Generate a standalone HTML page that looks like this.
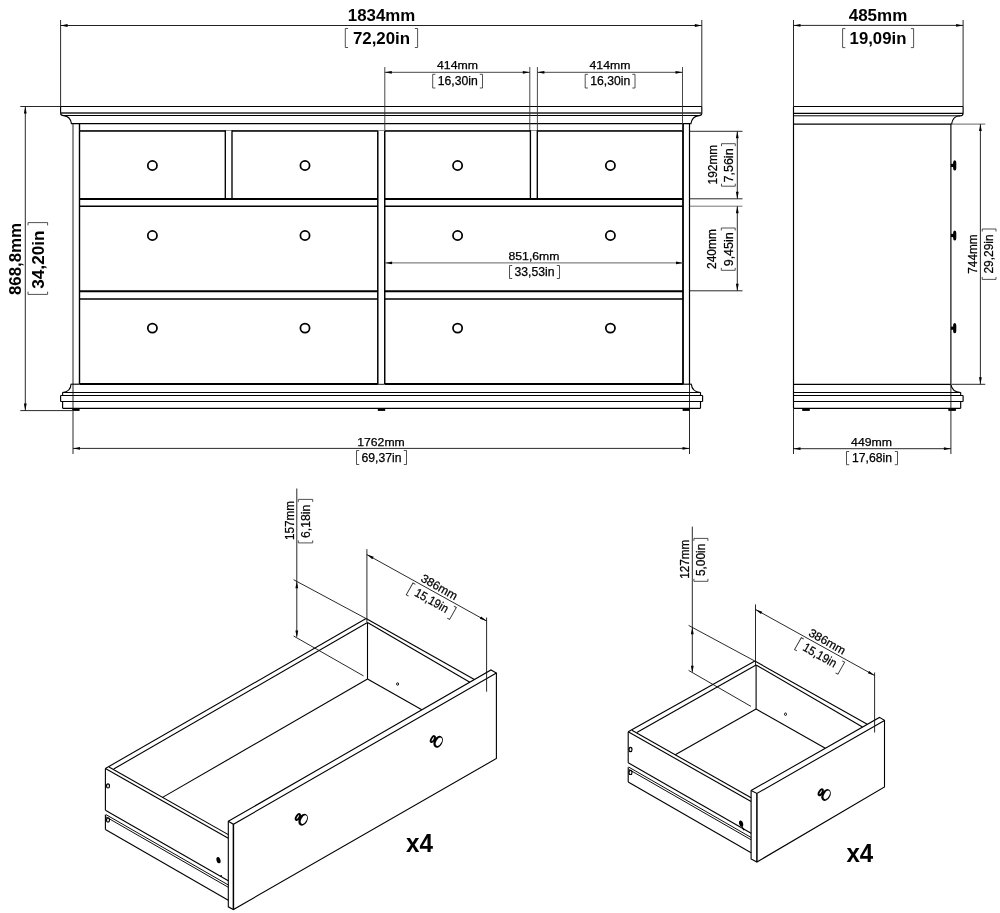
<!DOCTYPE html>
<html><head><meta charset="utf-8"><title>Dimensions</title>
<style>
html,body{margin:0;padding:0;background:#fff;}
body{width:1000px;height:913px;overflow:hidden;font-family:"Liberation Sans",sans-serif;}
svg{display:block;opacity:0.999;will-change:transform;}
svg text{font-family:"Liberation Sans",sans-serif;}
</style></head><body>
<svg width="1000" height="913" viewBox="0 0 1000 913">
<rect x="0" y="0" width="1000" height="913" fill="#fff"/>
<line x1="60.6" y1="106.5" x2="701.8" y2="106.5" stroke="#000" stroke-width="1.15" />
<line x1="60.6" y1="106.5" x2="60.6" y2="113.4" stroke="#000" stroke-width="1.15" />
<line x1="701.8" y1="106.5" x2="701.8" y2="113.4" stroke="#000" stroke-width="1.15" />
<line x1="60.6" y1="112.9" x2="701.8" y2="112.9" stroke="#222" stroke-width="1.5" />
<line x1="63.5" y1="115.5" x2="699" y2="115.5" stroke="#000" stroke-width="1.0" />
<path d="M60.6 113.4 Q60.8 115.6 63.5 115.6 Q70.5 116 71.6 124.1" stroke="#000" stroke-width="1.15" fill="none" />
<path d="M701.8 113.4 Q701.6 115.6 699 115.6 Q692 116 690.8 124.1" stroke="#000" stroke-width="1.15" fill="none" />
<line x1="71.6" y1="123.7" x2="690.8" y2="123.7" stroke="#000" stroke-width="1.3" />
<line x1="73.0" y1="124.1" x2="73.0" y2="384.2" stroke="#222" stroke-width="1.0" />
<line x1="79.5" y1="124.1" x2="79.5" y2="384" stroke="#000" stroke-width="1.4" />
<line x1="689.5" y1="124.1" x2="689.5" y2="384.2" stroke="#000" stroke-width="1.2" />
<line x1="683" y1="124.1" x2="683" y2="384" stroke="#000" stroke-width="1.8" />
<line x1="377.8" y1="130.9" x2="377.8" y2="384" stroke="#000" stroke-width="1.5" />
<line x1="384.75" y1="130.9" x2="384.75" y2="384" stroke="#000" stroke-width="1.45" />
<line x1="79.4" y1="199.0" x2="377.9" y2="199.0" stroke="#000" stroke-width="2.0" />
<line x1="384.7" y1="199.0" x2="683" y2="199.0" stroke="#000" stroke-width="2.0" />
<line x1="79.4" y1="206.25" x2="377.9" y2="206.25" stroke="#000" stroke-width="1.5" />
<line x1="384.7" y1="206.25" x2="683" y2="206.25" stroke="#000" stroke-width="1.5" />
<line x1="79.4" y1="291.25" x2="377.9" y2="291.25" stroke="#000" stroke-width="2.0" />
<line x1="384.7" y1="291.25" x2="683" y2="291.25" stroke="#000" stroke-width="2.0" />
<line x1="79.4" y1="299.0" x2="377.9" y2="299.0" stroke="#000" stroke-width="1.6" />
<line x1="384.7" y1="299.0" x2="683" y2="299.0" stroke="#000" stroke-width="1.6" />
<line x1="79.4" y1="384.0" x2="377.9" y2="384.0" stroke="#000" stroke-width="1.9" />
<line x1="384.7" y1="384.0" x2="683" y2="384.0" stroke="#000" stroke-width="1.9" />
<line x1="377.9" y1="384.3" x2="384.7" y2="384.3" stroke="#000" stroke-width="0.9" />
<line x1="79.4" y1="130.9" x2="225.3" y2="130.9" stroke="#000" stroke-width="1.7" />
<line x1="232.0" y1="130.9" x2="377.9" y2="130.9" stroke="#000" stroke-width="1.7" />
<line x1="384.7" y1="130.9" x2="530.4" y2="130.9" stroke="#000" stroke-width="1.7" />
<line x1="537.3" y1="130.9" x2="683" y2="130.9" stroke="#000" stroke-width="1.7" />
<line x1="79.4" y1="130.5" x2="683" y2="130.5" stroke="#444" stroke-width="0.6" />
<line x1="225.3" y1="130.2" x2="225.3" y2="199.0" stroke="#000" stroke-width="1.35" />
<line x1="232.0" y1="130.2" x2="232.0" y2="199.0" stroke="#000" stroke-width="1.35" />
<line x1="530.4" y1="130.2" x2="530.4" y2="199.0" stroke="#000" stroke-width="1.35" />
<line x1="537.3" y1="130.2" x2="537.3" y2="199.0" stroke="#000" stroke-width="1.35" />
<circle cx="152.4" cy="165.5" r="4.6" fill="#fff" stroke="#000" stroke-width="1.75"/>
<circle cx="305.0" cy="165.5" r="4.6" fill="#fff" stroke="#000" stroke-width="1.75"/>
<circle cx="457.6" cy="165.5" r="4.6" fill="#fff" stroke="#000" stroke-width="1.75"/>
<circle cx="610.4" cy="165.5" r="4.6" fill="#fff" stroke="#000" stroke-width="1.75"/>
<circle cx="152.4" cy="235.5" r="4.6" fill="#fff" stroke="#000" stroke-width="1.75"/>
<circle cx="305.0" cy="235.5" r="4.6" fill="#fff" stroke="#000" stroke-width="1.75"/>
<circle cx="457.6" cy="235.5" r="4.6" fill="#fff" stroke="#000" stroke-width="1.75"/>
<circle cx="610.4" cy="235.5" r="4.6" fill="#fff" stroke="#000" stroke-width="1.75"/>
<circle cx="152.4" cy="328.1" r="4.6" fill="#fff" stroke="#000" stroke-width="1.75"/>
<circle cx="305.0" cy="328.1" r="4.6" fill="#fff" stroke="#000" stroke-width="1.75"/>
<circle cx="457.6" cy="328.1" r="4.6" fill="#fff" stroke="#000" stroke-width="1.75"/>
<circle cx="610.4" cy="328.1" r="4.6" fill="#fff" stroke="#000" stroke-width="1.75"/>
<path d="M71 384.2 Q70.6 391.6 62.6 392.5" stroke="#000" stroke-width="1.15" fill="none" />
<line x1="70.8" y1="384.2" x2="79.4" y2="384.2" stroke="#000" stroke-width="1.15" />
<path d="M691.4 384.2 Q691.8 391.6 700.5 392.5" stroke="#000" stroke-width="1.15" fill="none" />
<line x1="683" y1="384.2" x2="691.6" y2="384.2" stroke="#000" stroke-width="1.15" />
<line x1="62.6" y1="392.5" x2="700.5" y2="392.5" stroke="#000" stroke-width="1.15" />
<line x1="60.6" y1="395.5" x2="702.6" y2="395.5" stroke="#000" stroke-width="1.15" />
<line x1="60.6" y1="395.5" x2="60.6" y2="401.5" stroke="#000" stroke-width="1.15" />
<line x1="702.6" y1="395.5" x2="702.6" y2="401.5" stroke="#000" stroke-width="1.15" />
<line x1="60.6" y1="401.5" x2="702.6" y2="401.5" stroke="#000" stroke-width="1.15" />
<line x1="62.6" y1="401.5" x2="62.6" y2="408.3" stroke="#000" stroke-width="1.15" />
<line x1="700.5" y1="401.5" x2="700.5" y2="408.3" stroke="#000" stroke-width="1.15" />
<line x1="62.6" y1="392.5" x2="62.6" y2="395.5" stroke="#000" stroke-width="1.15" />
<line x1="700.5" y1="392.5" x2="700.5" y2="395.5" stroke="#000" stroke-width="1.15" />
<line x1="62.6" y1="408.3" x2="700.5" y2="408.3" stroke="#000" stroke-width="1.15" />
<rect x="72.2" y="408.3" width="7.4" height="2.6" fill="#000"/>
<rect x="377.8" y="408.3" width="7.4" height="2.6" fill="#000"/>
<rect x="682.6" y="408.3" width="7.4" height="2.6" fill="#000"/>
<line x1="60.6" y1="20" x2="60.6" y2="106.5" stroke="#111" stroke-width="0.9" />
<line x1="701.8" y1="20" x2="701.8" y2="106.5" stroke="#111" stroke-width="0.9" />
<line x1="60.6" y1="25.5" x2="701.8" y2="25.5" stroke="#222" stroke-width="1.0" />
<polygon points="60.60,25.50 67.60,24.10 67.60,26.90" fill="#000"/>
<polygon points="701.80,25.50 694.80,26.90 694.80,24.10" fill="#000"/>
<text x="381.5" y="21.3" font-size="16.5" text-anchor="middle" font-weight="bold" textLength="67.5" lengthAdjust="spacingAndGlyphs" fill="#000">1834mm</text>
<text x="381.5" y="43.5" font-size="16.5" text-anchor="middle" font-weight="bold" textLength="57.2" lengthAdjust="spacingAndGlyphs" fill="#000">72,20in</text>
<path d="M348.0 28.5 L345.3 28.5 L345.3 47.5 L348.0 47.5" stroke="#333" stroke-width="0.85" fill="none" />
<path d="M414.90000000000003 28.5 L417.6 28.5 L417.6 47.5 L414.90000000000003 47.5" stroke="#333" stroke-width="0.85" fill="none" />
<line x1="384.8" y1="67" x2="384.8" y2="130" stroke="#333" stroke-width="0.9" />
<line x1="529.8" y1="67" x2="529.8" y2="130" stroke="#333" stroke-width="0.9" />
<line x1="537.4" y1="67" x2="537.4" y2="130" stroke="#333" stroke-width="0.9" />
<line x1="682.5" y1="67" x2="682.5" y2="130" stroke="#333" stroke-width="0.9" />
<line x1="384.8" y1="72.3" x2="529.8" y2="72.3" stroke="#333" stroke-width="0.9" />
<line x1="537.4" y1="72.3" x2="682.5" y2="72.3" stroke="#333" stroke-width="0.9" />
<polygon points="384.80,72.30 391.80,70.90 391.80,73.70" fill="#000"/>
<polygon points="529.80,72.30 522.80,73.70 522.80,70.90" fill="#000"/>
<polygon points="537.40,72.30 544.40,70.90 544.40,73.70" fill="#000"/>
<polygon points="682.50,72.30 675.50,73.70 675.50,70.90" fill="#000"/>
<text x="457.5" y="68.9" font-size="11.3" text-anchor="middle" textLength="41" lengthAdjust="spacingAndGlyphs" stroke="#000" stroke-width="0.25" fill="#000">414mm</text>
<text x="457.8" y="85.3" font-size="12.2" text-anchor="middle" textLength="40" lengthAdjust="spacingAndGlyphs" stroke="#000" stroke-width="0.25" fill="#000">16,30in</text>
<path d="M435.4 74.3 L432.7 74.3 L432.7 88 L435.4 88" stroke="#333" stroke-width="0.85" fill="none" />
<path d="M479.8 74.3 L482.5 74.3 L482.5 88 L479.8 88" stroke="#333" stroke-width="0.85" fill="none" />
<text x="610" y="68.9" font-size="11.3" text-anchor="middle" textLength="41" lengthAdjust="spacingAndGlyphs" stroke="#000" stroke-width="0.25" fill="#000">414mm</text>
<text x="610.3" y="85.3" font-size="12.2" text-anchor="middle" textLength="40" lengthAdjust="spacingAndGlyphs" stroke="#000" stroke-width="0.25" fill="#000">16,30in</text>
<path d="M587.9000000000001 74.3 L585.2 74.3 L585.2 88 L587.9000000000001 88" stroke="#333" stroke-width="0.85" fill="none" />
<path d="M632.3 74.3 L635 74.3 L635 88 L632.3 88" stroke="#333" stroke-width="0.85" fill="none" />
<line x1="385.1" y1="262.9" x2="683" y2="262.9" stroke="#555" stroke-width="0.9" />
<polygon points="385.10,262.90 392.10,261.50 392.10,264.30" fill="#000"/>
<polygon points="683.00,262.90 676.00,264.30 676.00,261.50" fill="#000"/>
<text x="534" y="259.5" font-size="11.3" text-anchor="middle" textLength="51" lengthAdjust="spacingAndGlyphs" stroke="#000" stroke-width="0.25" fill="#000">851,6mm</text>
<text x="534.5" y="276" font-size="12.2" text-anchor="middle" textLength="40" lengthAdjust="spacingAndGlyphs" stroke="#000" stroke-width="0.25" fill="#000">33,53in</text>
<path d="M512.2 265.5 L509.5 265.5 L509.5 278.5 L512.2 278.5" stroke="#333" stroke-width="0.85" fill="none" />
<path d="M556.8 265.5 L559.5 265.5 L559.5 278.5 L556.8 278.5" stroke="#333" stroke-width="0.85" fill="none" />
<line x1="20.3" y1="106.5" x2="60.6" y2="106.5" stroke="#111" stroke-width="0.9" />
<line x1="20.3" y1="410.6" x2="72" y2="410.6" stroke="#111" stroke-width="0.9" />
<line x1="25.3" y1="106.5" x2="25.3" y2="410.6" stroke="#111" stroke-width="0.9" />
<polygon points="25.30,106.50 26.70,113.50 23.90,113.50" fill="#000"/>
<polygon points="25.30,410.60 23.90,403.60 26.70,403.60" fill="#000"/>
<text x="21" y="259" font-size="16.5" text-anchor="middle" font-weight="bold" transform="rotate(-90 21 259)" textLength="72" lengthAdjust="spacingAndGlyphs" fill="#000">868,8mm</text>
<text x="43.7" y="259.6" font-size="16.5" text-anchor="middle" font-weight="bold" transform="rotate(-90 43.7 259.6)" textLength="58.3" lengthAdjust="spacingAndGlyphs" fill="#000">34,20in</text>
<path d="M28 225.4 L28 222.6 L47.6 222.6 L47.6 225.4" stroke="#333" stroke-width="0.85" fill="none" />
<path d="M28 291.59999999999997 L28 294.4 L47.6 294.4 L47.6 291.59999999999997" stroke="#333" stroke-width="0.85" fill="none" />
<line x1="73.0" y1="384" x2="73.0" y2="454" stroke="#111" stroke-width="0.9" />
<line x1="689.5" y1="384" x2="689.5" y2="454" stroke="#111" stroke-width="0.9" />
<line x1="73.0" y1="448.4" x2="689.5" y2="448.4" stroke="#111" stroke-width="0.9" />
<polygon points="73.00,448.40 80.00,447.00 80.00,449.80" fill="#000"/>
<polygon points="689.50,448.40 682.50,449.80 682.50,447.00" fill="#000"/>
<text x="381" y="445.8" font-size="11.3" text-anchor="middle" textLength="47.5" lengthAdjust="spacingAndGlyphs" stroke="#000" stroke-width="0.25" fill="#000">1762mm</text>
<text x="381.5" y="461.8" font-size="12.2" text-anchor="middle" textLength="40" lengthAdjust="spacingAndGlyphs" stroke="#000" stroke-width="0.25" fill="#000">69,37in</text>
<path d="M359.2 450.5 L356.5 450.5 L356.5 464.5 L359.2 464.5" stroke="#333" stroke-width="0.85" fill="none" />
<path d="M403.8 450.5 L406.5 450.5 L406.5 464.5 L403.8 464.5" stroke="#333" stroke-width="0.85" fill="none" />
<line x1="690" y1="131.3" x2="742.5" y2="131.3" stroke="#111" stroke-width="0.9" />
<line x1="690" y1="198.8" x2="742.5" y2="198.8" stroke="#111" stroke-width="0.9" />
<line x1="737.3" y1="131.3" x2="737.3" y2="198.8" stroke="#111" stroke-width="0.9" />
<polygon points="737.30,131.30 738.70,138.30 735.90,138.30" fill="#000"/>
<polygon points="737.30,198.80 735.90,191.80 738.70,191.80" fill="#000"/>
<text x="716.6" y="164.6" font-size="12.4" text-anchor="middle" transform="rotate(-90 716.6 164.6)" textLength="39.6" lengthAdjust="spacingAndGlyphs" stroke="#000" stroke-width="0.25" fill="#000">192mm</text>
<text x="732.9" y="165.4" font-size="13.2" text-anchor="middle" transform="rotate(-90 732.9 165.4)" textLength="34" lengthAdjust="spacingAndGlyphs" stroke="#000" stroke-width="0.25" fill="#000">7,56in</text>
<path d="M721.5 146.2 L721.5 143.7 L735.3 143.7 L735.3 146.2" stroke="#333" stroke-width="0.85" fill="none" />
<path d="M721.5 183.7 L721.5 186.2 L735.3 186.2 L735.3 183.7" stroke="#333" stroke-width="0.85" fill="none" />
<line x1="690" y1="206.2" x2="742.5" y2="206.2" stroke="#666" stroke-width="0.9" />
<line x1="690" y1="290.8" x2="742.5" y2="290.8" stroke="#111" stroke-width="0.9" />
<line x1="737.3" y1="206.2" x2="737.3" y2="290.8" stroke="#111" stroke-width="0.9" />
<polygon points="737.30,206.20 738.70,213.20 735.90,213.20" fill="#000"/>
<polygon points="737.30,290.80 735.90,283.80 738.70,283.80" fill="#000"/>
<text x="716.2" y="249" font-size="12.4" text-anchor="middle" transform="rotate(-90 716.2 249)" textLength="39.8" lengthAdjust="spacingAndGlyphs" stroke="#000" stroke-width="0.25" fill="#000">240mm</text>
<text x="732.8" y="249.3" font-size="13.2" text-anchor="middle" transform="rotate(-90 732.8 249.3)" textLength="34" lengthAdjust="spacingAndGlyphs" stroke="#000" stroke-width="0.25" fill="#000">9,45in</text>
<path d="M721.3 230.5 L721.3 228 L735.2 228 L735.2 230.5" stroke="#333" stroke-width="0.85" fill="none" />
<path d="M721.3 267.8 L721.3 270.3 L735.2 270.3 L735.2 267.8" stroke="#333" stroke-width="0.85" fill="none" />
<line x1="793.5" y1="106.5" x2="963.1" y2="106.5" stroke="#000" stroke-width="1.15" />
<line x1="793.5" y1="106.5" x2="793.5" y2="408.3" stroke="#000" stroke-width="1.15" />
<line x1="963.1" y1="106.5" x2="963.1" y2="113.4" stroke="#000" stroke-width="1.15" />
<line x1="793.5" y1="113.4" x2="963.1" y2="113.4" stroke="#000" stroke-width="1.15" />
<line x1="793.5" y1="115.8" x2="960" y2="115.8" stroke="#000" stroke-width="1.0" />
<path d="M963.1 113.4 Q963 115.8 960 115.8 Q952.8 116 951.6 124.1" stroke="#000" stroke-width="1.15" fill="none" />
<line x1="793.5" y1="124.1" x2="951.6" y2="124.1" stroke="#000" stroke-width="1.15" />
<line x1="950.9" y1="124.1" x2="950.9" y2="384.3" stroke="#000" stroke-width="1.15" />
<line x1="793.5" y1="384.3" x2="950.9" y2="384.3" stroke="#000" stroke-width="1.15" />
<path d="M950.9 384.3 Q951.8 392 960.7 392.5" stroke="#000" stroke-width="1.15" fill="none" />
<line x1="793.5" y1="392.5" x2="960.7" y2="392.5" stroke="#000" stroke-width="1.15" />
<line x1="793.5" y1="395.5" x2="963.1" y2="395.5" stroke="#000" stroke-width="1.15" />
<line x1="960.7" y1="392.5" x2="960.7" y2="395.5" stroke="#000" stroke-width="1.15" />
<line x1="963.1" y1="395.5" x2="963.1" y2="401.5" stroke="#000" stroke-width="1.15" />
<line x1="793.5" y1="401.5" x2="963.1" y2="401.5" stroke="#000" stroke-width="1.15" />
<line x1="960.7" y1="401.5" x2="960.7" y2="408.3" stroke="#000" stroke-width="1.15" />
<line x1="793.5" y1="408.3" x2="960.7" y2="408.3" stroke="#000" stroke-width="1.15" />
<rect x="802.2" y="408.3" width="7.6" height="2.6" fill="#000"/>
<rect x="948.3" y="408.3" width="7.6" height="2.6" fill="#000"/>
<rect x="950.9" y="163.8" width="3" height="3.2" fill="#000"/>
<rect x="953.1" y="160.3" width="3.2" height="10.2" rx="1.5" ry="2.5" fill="#000"/>
<rect x="950.9" y="233.9" width="3" height="3.2" fill="#000"/>
<rect x="953.1" y="230.4" width="3.2" height="10.2" rx="1.5" ry="2.5" fill="#000"/>
<rect x="950.9" y="326.59999999999997" width="3" height="3.2" fill="#000"/>
<rect x="953.1" y="323.09999999999997" width="3.2" height="10.2" rx="1.5" ry="2.5" fill="#000"/>
<line x1="793.5" y1="20" x2="793.5" y2="106.5" stroke="#111" stroke-width="0.9" />
<line x1="963.1" y1="20" x2="963.1" y2="106.5" stroke="#111" stroke-width="0.9" />
<line x1="793.5" y1="25.4" x2="963.1" y2="25.4" stroke="#111" stroke-width="0.9" />
<polygon points="793.50,25.40 800.50,24.00 800.50,26.80" fill="#000"/>
<polygon points="963.10,25.40 956.10,26.80 956.10,24.00" fill="#000"/>
<text x="878" y="21.2" font-size="16.5" text-anchor="middle" font-weight="bold" textLength="58.6" lengthAdjust="spacingAndGlyphs" fill="#000">485mm</text>
<text x="878" y="43.6" font-size="16.5" text-anchor="middle" font-weight="bold" textLength="56.8" lengthAdjust="spacingAndGlyphs" fill="#000">19,09in</text>
<path d="M845.3000000000001 28.6 L842.6 28.6 L842.6 47.6 L845.3000000000001 47.6" stroke="#333" stroke-width="0.85" fill="none" />
<path d="M910.9 28.6 L913.6 28.6 L913.6 47.6 L910.9 47.6" stroke="#333" stroke-width="0.85" fill="none" />
<line x1="952" y1="124.1" x2="985.3" y2="124.1" stroke="#555" stroke-width="0.9" />
<line x1="952" y1="384.3" x2="985.3" y2="384.3" stroke="#111" stroke-width="0.9" />
<line x1="980.4" y1="124.1" x2="980.4" y2="384.3" stroke="#111" stroke-width="0.9" />
<polygon points="980.40,124.10 981.80,131.10 979.00,131.10" fill="#000"/>
<polygon points="980.40,384.30 979.00,377.30 981.80,377.30" fill="#000"/>
<text x="977.2" y="254" font-size="12.4" text-anchor="middle" transform="rotate(-90 977.2 254)" textLength="39.4" lengthAdjust="spacingAndGlyphs" stroke="#000" stroke-width="0.25" fill="#000">744mm</text>
<text x="993" y="254" font-size="13.0" text-anchor="middle" transform="rotate(-90 993 254)" textLength="39" lengthAdjust="spacingAndGlyphs" stroke="#000" stroke-width="0.25" fill="#000">29,29in</text>
<path d="M982.2 231.5 L982.2 229 L996 229 L996 231.5" stroke="#333" stroke-width="0.85" fill="none" />
<path d="M982.2 276.9 L982.2 279.4 L996 279.4 L996 276.9" stroke="#333" stroke-width="0.85" fill="none" />
<line x1="793.5" y1="408.2" x2="793.5" y2="454" stroke="#111" stroke-width="0.9" />
<line x1="950.9" y1="384.3" x2="950.9" y2="454" stroke="#111" stroke-width="0.9" />
<line x1="793.5" y1="448.7" x2="950.9" y2="448.7" stroke="#111" stroke-width="0.9" />
<polygon points="793.50,448.70 800.50,447.30 800.50,450.10" fill="#000"/>
<polygon points="950.90,448.70 943.90,450.10 943.90,447.30" fill="#000"/>
<text x="871.6" y="445.5" font-size="11.3" text-anchor="middle" textLength="41" lengthAdjust="spacingAndGlyphs" stroke="#000" stroke-width="0.25" fill="#000">449mm</text>
<text x="872" y="462" font-size="12.2" text-anchor="middle" textLength="40" lengthAdjust="spacingAndGlyphs" stroke="#000" stroke-width="0.25" fill="#000">17,68in</text>
<path d="M849.2 451.5 L846.5 451.5 L846.5 464.7 L849.2 464.7" stroke="#333" stroke-width="0.85" fill="none" />
<path d="M894.8 451.5 L897.5 451.5 L897.5 464.7 L894.8 464.7" stroke="#333" stroke-width="0.85" fill="none" />
<line x1="105.4" y1="768.5" x2="366.1" y2="618.6" stroke="#000" stroke-width="1.1" />
<line x1="113.7" y1="769" x2="367.5" y2="622.5" stroke="#000" stroke-width="1.1" />
<line x1="367.5" y1="622.5" x2="367.5" y2="679.1" stroke="#000" stroke-width="1.1" />
<line x1="105.4" y1="768.5" x2="228.3" y2="838.1843" stroke="#000" stroke-width="1.1" />
<line x1="109" y1="767" x2="228.3" y2="834.6431" stroke="#000" stroke-width="1.1" />
<line x1="367.5" y1="679.1" x2="162.5846539620929" y2="797.3824987965068" stroke="#000" stroke-width="1.1" />
<line x1="366.1" y1="618.6" x2="474.38923519744804" y2="679.5668394161632" stroke="#000" stroke-width="1.1" />
<line x1="367.5" y1="622.5" x2="469.8596003469817" y2="682.1756470022904" stroke="#000" stroke-width="1.1" />
<line x1="367.5" y1="679.1" x2="421.8187365369704" y2="709.8444048799253" stroke="#000" stroke-width="1.1" />
<path d="M228.3 821.3 L491 670 L496.4 673 L496.4 758.5 L233.4 909.5 L228.3 906.8 Z" stroke="#000" stroke-width="1.1" fill="none" />
<path d="M228.3 821.3 L233.4 824.3 L496.4 673" stroke="#000" stroke-width="1.1" fill="none" />
<line x1="233.4" y1="824.3" x2="233.4" y2="909.5" stroke="#000" stroke-width="1.5" />
<line x1="105.4" y1="768.5" x2="105.4" y2="810.2" stroke="#000" stroke-width="1.1" />
<line x1="105.4" y1="810.2" x2="228.3" y2="880.6831500000001" stroke="#000" stroke-width="1.1" />
<line x1="105.80000000000001" y1="814.5" x2="228.3" y2="884.98315" stroke="#000" stroke-width="0.95" />
<line x1="105.80000000000001" y1="816.8000000000001" x2="228.3" y2="887.2831500000001" stroke="#000" stroke-width="0.95" />
<line x1="105.4" y1="814.8000000000001" x2="105.4" y2="829.4000000000001" stroke="#000" stroke-width="1.1" />
<line x1="105.4" y1="829.4000000000001" x2="228.3" y2="900.2831500000001" stroke="#000" stroke-width="1.1" />
<ellipse cx="297.85" cy="817.00" rx="1.5" ry="3.3" transform="rotate(30 297.85 817.00)" fill="#fff" stroke="#000" stroke-width="1.9"/>
<ellipse cx="303.15" cy="819.70" rx="4.3" ry="6.3" transform="rotate(28 303.15 819.70)" fill="#000"/>
<ellipse cx="303.90" cy="819.60" rx="2.5" ry="4.6" transform="rotate(28 303.90 819.60)" fill="#fff"/>
<ellipse cx="432.85" cy="739.10" rx="1.5" ry="3.3" transform="rotate(30 432.85 739.10)" fill="#fff" stroke="#000" stroke-width="1.9"/>
<ellipse cx="438.15" cy="741.80" rx="4.3" ry="6.3" transform="rotate(28 438.15 741.80)" fill="#000"/>
<ellipse cx="438.90" cy="741.70" rx="2.5" ry="4.6" transform="rotate(28 438.90 741.70)" fill="#fff"/>
<ellipse cx="397.6" cy="684" rx="1.0" ry="1.3" fill="#fff" stroke="#000" stroke-width="0.9"/>
<ellipse cx="218.5" cy="860.2" rx="2.0" ry="3.2" transform="rotate(-15 218.5 860.2)" fill="#000"/>
<ellipse cx="108" cy="785.9" rx="1.5" ry="2.1" fill="#fff" stroke="#000" stroke-width="1.2"/>
<ellipse cx="108" cy="820" rx="1.5" ry="2.1" fill="#fff" stroke="#000" stroke-width="1.2"/>
<circle cx="221.2" cy="875.9" r="0.8" fill="#000"/>
<line x1="296.8" y1="488.5" x2="296.8" y2="636.6" stroke="#111" stroke-width="0.9" />
<line x1="293.6" y1="579.7" x2="366.1" y2="618.6" stroke="#111" stroke-width="0.9" />
<line x1="293.6" y1="636" x2="363.5" y2="675.9" stroke="#111" stroke-width="0.9" />
<polygon points="296.80,581.30 298.20,588.30 295.40,588.30" fill="#000"/>
<polygon points="296.80,637.50 295.40,630.50 298.20,630.50" fill="#000"/>
<text x="294.2" y="520.5" font-size="12.4" text-anchor="middle" transform="rotate(-90 294.2 520.5)" textLength="39" lengthAdjust="spacingAndGlyphs" stroke="#000" stroke-width="0.25" fill="#000">157mm</text>
<text x="310.3" y="521.3" font-size="13.2" text-anchor="middle" transform="rotate(-90 310.3 521.3)" textLength="33.3" lengthAdjust="spacingAndGlyphs" stroke="#000" stroke-width="0.25" fill="#000">6,18in</text>
<path d="M298.3 501.9 L298.3 499.4 L312.7 499.4 L312.7 501.9" stroke="#333" stroke-width="0.85" fill="none" />
<path d="M298.3 540.4 L298.3 542.9 L312.7 542.9 L312.7 540.4" stroke="#333" stroke-width="0.85" fill="none" />
<line x1="366.9" y1="549.2" x2="366.9" y2="622" stroke="#111" stroke-width="0.9" />
<line x1="486.6" y1="617.5" x2="486.6" y2="691.7" stroke="#111" stroke-width="0.9" />
<line x1="366.9" y1="554.6" x2="486.6" y2="621" stroke="#111" stroke-width="0.9" />
<polygon points="366.90,554.60 373.70,556.77 372.34,559.22" fill="#000"/>
<polygon points="486.60,621.00 479.80,618.83 481.16,616.38" fill="#000"/>
<text x="437.3" y="590.6" font-size="11.8" text-anchor="middle" transform="rotate(29.5 437.3 590.6)" textLength="40" lengthAdjust="spacingAndGlyphs" stroke="#000" stroke-width="0.25" fill="#000">386mm</text>
<text x="429.6" y="604.2" font-size="12.2" text-anchor="middle" transform="rotate(29.5 429.6 604.2)" textLength="36.7" lengthAdjust="spacingAndGlyphs" stroke="#000" stroke-width="0.25" fill="#000">15,19in</text>
<path d="M407.40000000000003 593.9000000000001 L404.70000000000005 593.9000000000001 L404.70000000000005 607.6 L407.40000000000003 607.6" stroke="#333" stroke-width="0.9" fill="none" transform="rotate(29.5 429.6 604.2)"/>
<path d="M451.8 593.9000000000001 L454.5 593.9000000000001 L454.5 607.6 L451.8 607.6" stroke="#333" stroke-width="0.9" fill="none" transform="rotate(29.5 429.6 604.2)"/>
<text x="419.6" y="851.8" font-size="25.3" text-anchor="middle" font-weight="bold" textLength="27" lengthAdjust="spacingAndGlyphs" fill="#000">x4</text>
<line x1="628.2" y1="731.8" x2="754.9" y2="661.1" stroke="#000" stroke-width="1.1" />
<line x1="636.8" y1="732.4" x2="756.1" y2="665" stroke="#000" stroke-width="1.1" />
<line x1="756.1" y1="665" x2="756.1" y2="709.1" stroke="#000" stroke-width="1.1" />
<line x1="628.2" y1="731.8" x2="751.1" y2="801.4843" stroke="#000" stroke-width="1.1" />
<line x1="631.9" y1="730.2" x2="751.1" y2="797.7864000000001" stroke="#000" stroke-width="1.1" />
<line x1="756.1" y1="709.1" x2="675.2480125974595" y2="754.7783231427596" stroke="#000" stroke-width="1.1" />
<line x1="754.9" y1="661.1" x2="867.2314600754024" y2="724.3426120224516" stroke="#000" stroke-width="1.1" />
<line x1="756.1" y1="665" x2="862.5094395296181" y2="727.0367032457674" stroke="#000" stroke-width="1.1" />
<line x1="756.1" y1="709.1" x2="825.2990278278783" y2="748.2666497505791" stroke="#000" stroke-width="1.1" />
<path d="M751.1 790.6 L879.4 717.4 L884.5 720.4 L884.5 787 L756.9 862 L751.1 859 Z" stroke="#000" stroke-width="1.1" fill="none" />
<path d="M751.1 790.6 L756.9 793.5 L884.5 720.4" stroke="#000" stroke-width="1.1" fill="none" />
<line x1="756.9" y1="793.5" x2="756.9" y2="862" stroke="#000" stroke-width="1.5" />
<line x1="628.2" y1="731.8" x2="628.2" y2="762.7" stroke="#000" stroke-width="1.1" />
<line x1="628.2" y1="762.7" x2="751.1" y2="833.1831500000001" stroke="#000" stroke-width="1.1" />
<line x1="628.6" y1="767.0" x2="751.1" y2="837.48315" stroke="#000" stroke-width="0.95" />
<line x1="628.6" y1="769.3000000000001" x2="751.1" y2="839.7831500000001" stroke="#000" stroke-width="0.95" />
<line x1="628.2" y1="767.3000000000001" x2="628.2" y2="781.9000000000001" stroke="#000" stroke-width="1.1" />
<line x1="628.2" y1="781.9000000000001" x2="751.1" y2="852.7831500000001" stroke="#000" stroke-width="1.1" />
<ellipse cx="820.70" cy="792.30" rx="1.5" ry="3.3" transform="rotate(30 820.70 792.30)" fill="#fff" stroke="#000" stroke-width="1.9"/>
<ellipse cx="826.00" cy="795.00" rx="4.3" ry="6.3" transform="rotate(28 826.00 795.00)" fill="#000"/>
<ellipse cx="826.75" cy="794.90" rx="2.5" ry="4.6" transform="rotate(28 826.75 794.90)" fill="#fff"/>
<ellipse cx="785.5" cy="714.2" rx="1.0" ry="1.3" fill="#fff" stroke="#000" stroke-width="0.9"/>
<ellipse cx="741.1" cy="823.6" rx="2.0" ry="3.2" transform="rotate(-15 741.1 823.6)" fill="#000"/>
<ellipse cx="630.5" cy="749.5" rx="1.5" ry="2.1" fill="#fff" stroke="#000" stroke-width="1.2"/>
<ellipse cx="630.5" cy="772.4" rx="1.5" ry="2.1" fill="#fff" stroke="#000" stroke-width="1.2"/>
<circle cx="743.6" cy="829.4" r="0.8" fill="#000"/>
<line x1="741.6" y1="825" x2="743.8" y2="830.2" stroke="#000" stroke-width="1.0" />
<line x1="692.3" y1="526.6" x2="692.3" y2="671.6" stroke="#111" stroke-width="0.9" />
<line x1="688.6" y1="625.4" x2="754.9" y2="661.1" stroke="#111" stroke-width="0.9" />
<line x1="688.6" y1="670.4" x2="751" y2="706.4" stroke="#111" stroke-width="0.9" />
<polygon points="692.30,627.20 693.70,634.20 690.90,634.20" fill="#000"/>
<polygon points="692.30,672.70 690.90,665.70 693.70,665.70" fill="#000"/>
<text x="689.5" y="559.2" font-size="12.4" text-anchor="middle" transform="rotate(-90 689.5 559.2)" textLength="39" lengthAdjust="spacingAndGlyphs" stroke="#000" stroke-width="0.25" fill="#000">127mm</text>
<text x="705.3" y="559.9" font-size="13.2" text-anchor="middle" transform="rotate(-90 705.3 559.9)" textLength="32.4" lengthAdjust="spacingAndGlyphs" stroke="#000" stroke-width="0.25" fill="#000">5,00in</text>
<path d="M693.9 540.9 L693.9 538.4 L707.9 538.4 L707.9 540.9" stroke="#333" stroke-width="0.85" fill="none" />
<path d="M693.9 578.8 L693.9 581.3 L707.9 581.3 L707.9 578.8" stroke="#333" stroke-width="0.85" fill="none" />
<line x1="755.5" y1="604.4" x2="755.5" y2="665" stroke="#111" stroke-width="0.9" />
<line x1="874.6" y1="672.5" x2="874.6" y2="732.5" stroke="#111" stroke-width="0.9" />
<line x1="755.5" y1="609.5" x2="874.6" y2="675.5" stroke="#111" stroke-width="0.9" />
<polygon points="755.50,609.50 762.30,611.67 760.94,614.12" fill="#000"/>
<polygon points="874.60,675.50 867.80,673.33 869.16,670.88" fill="#000"/>
<text x="825.3" y="645.1" font-size="11.8" text-anchor="middle" transform="rotate(29.5 825.3 645.1)" textLength="40.3" lengthAdjust="spacingAndGlyphs" stroke="#000" stroke-width="0.25" fill="#000">386mm</text>
<text x="817.9" y="658.9" font-size="12.2" text-anchor="middle" transform="rotate(29.5 817.9 658.9)" textLength="36.7" lengthAdjust="spacingAndGlyphs" stroke="#000" stroke-width="0.25" fill="#000">15,19in</text>
<path d="M795.7 648.6 L793.0 648.6 L793.0 662.3 L795.7 662.3" stroke="#333" stroke-width="0.9" fill="none" transform="rotate(29.5 817.9 658.9)"/>
<path d="M840.0999999999999 648.6 L842.8 648.6 L842.8 662.3 L840.0999999999999 662.3" stroke="#333" stroke-width="0.9" fill="none" transform="rotate(29.5 817.9 658.9)"/>
<text x="859.8" y="861.5" font-size="25.3" text-anchor="middle" font-weight="bold" textLength="26.8" lengthAdjust="spacingAndGlyphs" fill="#000">x4</text>
</svg>
</body></html>
